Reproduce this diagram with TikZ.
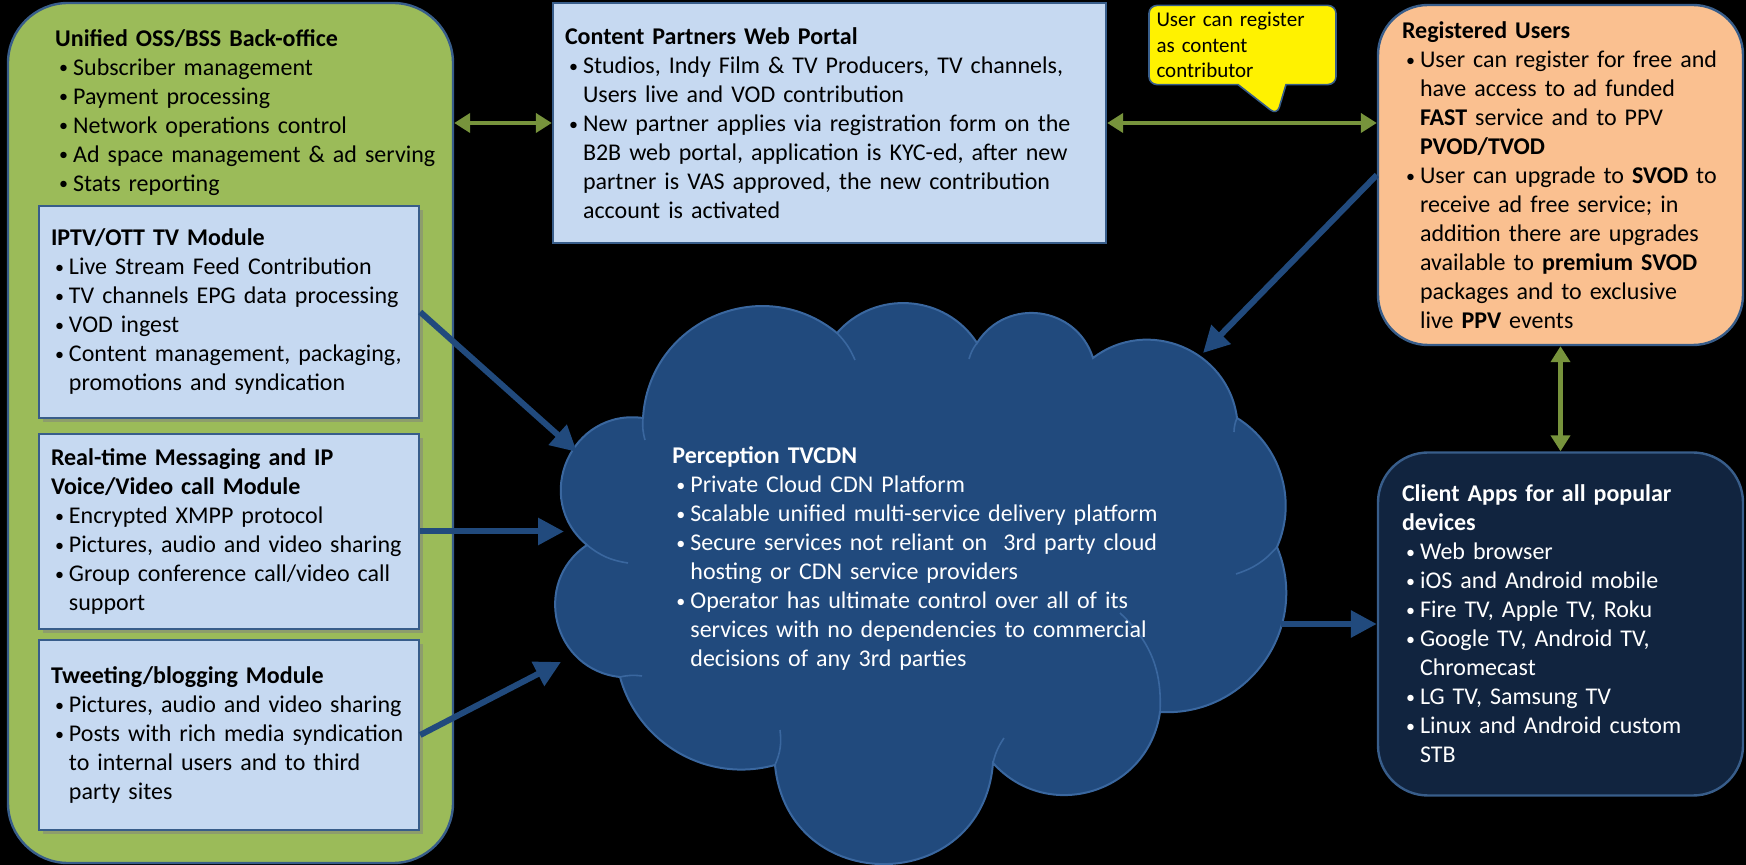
\documentclass[tikz,border=0pt]{standalone}
\usepackage{fontspec}
\setmainfont{Carlito}
\usetikzlibrary{positioning,shapes.callouts,arrows.meta,shadows}
\definecolor{oliveg}{HTML}{9BBB59}
\definecolor{arrowg}{HTML}{77933C}
\definecolor{paleblue}{HTML}{C6D9F1}
\definecolor{edgeblue}{HTML}{385D8A}
\definecolor{cloudblue}{HTML}{214A7D}
\definecolor{cloudedge}{HTML}{3A679F}
\definecolor{navy}{HTML}{11243F}
\definecolor{peach}{HTML}{FAC090}
\setlength{\parindent}{0pt}
\newcommand{\bul}[1]{\par\noindent\hbox to 9pt{\hskip2pt\raisebox{0.6pt}{\fontsize{9}{9}\selectfont\textbullet}\hss}%
	\parbox[t]{\dimexpr\hsize-9pt\relax}{\raggedright #1\par\xdef\bulpd{\the\prevdepth}}\par\prevdepth=\bulpd\relax}
\newcommand{\cont}{\hfil\break}
\begin{document}
\begin{tikzpicture}[x=0.5pt,y=-0.5pt]
\tikzstyle{txt} = [align=left, font=\fontsize{12}{14.5}\selectfont, inner ysep=0]
\tikzstyle{panel} = [draw=edgeblue, line width=1.2, fill=oliveg, rounded corners=30pt,
						   minimum width=222.5pt, minimum height=430pt]
\tikzstyle{module} = [txt, draw=edgeblue, line width=1.2, fill=paleblue, inner xsep=6pt,
						   text width=178pt, drop shadow={shadow xshift=2pt, shadow yshift=-2pt, opacity=0.5}]
\tikzstyle{portalbox} = [txt, draw=edgeblue, line width=1.2, fill=paleblue, inner xsep=6pt,
						   text width=264.5pt, minimum height=120pt]
\tikzstyle{userbox} = [txt, draw=edgeblue, line width=1.2, rounded corners=25pt, inner xsep=12pt,
						   text width=158.5pt]
\tikzstyle{note} = [shape=rectangle callout, fill=yellow, draw=edgeblue, line width=0.8,
						   rounded corners=4pt, align=left, font=\fontsize{10.5}{12.8}\selectfont,
						   text width=86pt, inner xsep=3.75pt, minimum height=39pt, callout pointer width=24pt]
\tikzstyle{cloudline} = [draw=cloudedge, line width=1, fill=cloudblue]
\tikzstyle{puffline} = [draw=cloudedge, line width=0.8]
\tikzstyle{feed} = [-{Triangle[length=13pt,width=13pt]}, line width=3, draw=cloudblue]
\tikzstyle{link} = [{Triangle[length=8pt,width=9.5pt]}-{Triangle[length=8pt,width=9.5pt]}, line width=2.2, draw=arrowg]
\path [use as bounding box, fill=black] (0,0) rectangle (1746,865);
\node [panel] (bss) at (230.5,433) {};
\node [txt, text width=195pt, inner sep=0, below right=13.5pt and 24pt of bss.north west] (bsstext)
	  {\textbf{Unified OSS/BSS Back-office}\bul{Subscriber management}\bul{Payment processing}
	   \bul{Network operations control}\bul{Ad space management \& ad serving}\bul{Stats reporting}};
\node [module, minimum height=106pt] (iptv) at (229,312) {\textbf{IPTV/OTT TV Module}
	   \bul{Live Stream Feed Contribution}\bul{TV channels EPG data processing}\bul{VOD ingest}
	   \bul{Content management, packaging,\\promotions and syndication}};
\node [module, minimum height=97.5pt] (rtc) at (229,531.5) {\textbf{Real-time Messaging and IP\cont Voice/Video call Module}
	   \bul{Encrypted XMPP protocol}\bul{Pictures, audio and video sharing}
	   \bul{Group conference call/video call\\support}};
\node [module, minimum height=95pt] (blog) at (229,735) {\textbf{Tweeting/blogging Module}
	   \bul{Pictures, audio and video sharing}\bul{Posts with rich media syndication\\to internal users and to third\\party sites}};
\node [portalbox] (portal) at (829.5,123) {\textbf{Content Partners Web Portal}
	   \bul{Studios, Indy Film \& TV Producers, TV channels,\\Users live and VOD contribution}
	   \bul{New partner applies via registration form on the\\B2B web portal, application is KYC-ed, after new\\partner is VAS approved, the new contribution\\account is activated}};
\node [note, callout absolute pointer={(1277,115)}] (note) at (1242.5,45) {User can register\\as content\\contributor};
\node [userbox, fill=peach, minimum height=170pt] (reg) at (1560.5,175) {\textbf{Registered Users}
	   \bul{User can register for free and\\have access to ad funded\\\textbf{FAST} service and to PPV\\\textbf{PVOD/TVOD}}
	   \bul{User can upgrade to \textbf{SVOD} to\\receive ad free service; in\\addition there are upgrades\\available to \textbf{premium SVOD}\\packages and to exclusive\\live \textbf{PPV} events}};
\node [userbox, fill=navy, text=white, minimum height=171.5pt] (client) at (1560.5,624) {\textbf{Client Apps for all popular\cont devices}
	   \bul{Web browser}\bul{iOS and Android mobile}\bul{Fire TV, Apple TV, Roku}\bul{Google TV, Android TV,\\Chromecast}
	   \bul{LG TV, Samsung TV}\bul{Linux and Android custom\\STB}};
\coordinate (p1) at (643,418);
\coordinate (p2) at (837,333);
\coordinate (p3) at (977,343);
\coordinate (p4) at (1093,358);
\coordinate (p5) at (1237,418);
\coordinate (p6) at (1277,547);
\coordinate (p7) at (1160,712);
\coordinate (p8) at (993,763);
\coordinate (p9) at (775,765);
\coordinate (p10) at (620,677);
\coordinate (p11) at (587,545);
\draw [cloudline] (p11) to [bend left=74, looseness=1.34] (p1) to [bend left=63, looseness=1.17] (p2)
	  to [bend left=53, looseness=1.06] (p3) to [bend left=65, looseness=1.2] (p4)
	  to [bend left=60, looseness=1.13] (p5) to [bend left=41, looseness=0.97] (p6)
	  to [bend left=58, looseness=1.11] (p7) to [bend left=65, looseness=1.2] (p8)
	  to [bend left=85, looseness=1.57] (p9) to [bend left=45, looseness=1] (p10)
	  to [bend left=70, looseness=1.27] (p11) -- cycle;
\draw [puffline] (p1) to [bend right=10] (645,440);
\draw [puffline] (p2) to [bend left=10] (855,360);
\draw [puffline] (p3) to [bend right=10] (969,359);
\draw [puffline] (p5) to [bend right=10] (1234,432);
\draw [puffline] (p6) to [bend left=15] (1236,574);
\draw [puffline] (1120,613) to [bend left=25] (p7);
\draw [puffline] (p8) to [bend left=10] (1004,738);
\draw [puffline] (780,730) to [bend left=15] (p9);
\draw [puffline] (p10) to [bend left=10] (642,676);
\draw [puffline] (p11) to [bend right=15] (628,563);
\node [txt, text=white, text width=280pt, inner sep=0, anchor=north west] (cdn) at (672,446) {\textbf{Perception TVCDN}
	   \bul{Private Cloud CDN Platform}\bul{Scalable unified multi-service delivery platform}
	   \bul{Secure services not reliant on~ 3rd party cloud\\hosting or CDN service providers}
	   \bul{Operator has ultimate control over all of its\\services with no dependencies to commercial\\decisions of any 3rd parties}};
\coordinate (cdn in1) at (577,452);
\coordinate (cdn in2) at (564,532);
\coordinate (cdn in3) at (561,662);
\coordinate (cdn in4) at (1203,353);
\coordinate (cdn out) at (1281,624);
\draw [link] (portal.west -| bss.east) -- (portal.west);
\draw [link] (portal.east) -- (portal.east -| reg.west);
\draw [link] (reg.south) -- (client.north);
\draw [feed] (iptv.east) -- (cdn in1);
\draw [feed] (rtc.east) -- (rtc.east -| cdn in2);
\draw [feed] (blog.east) -- (cdn in3);
\draw [feed] (reg.west) -- (cdn in4);
\draw [feed] (cdn out) -- (cdn out -| client.west);
\end{tikzpicture}
\end{document}
